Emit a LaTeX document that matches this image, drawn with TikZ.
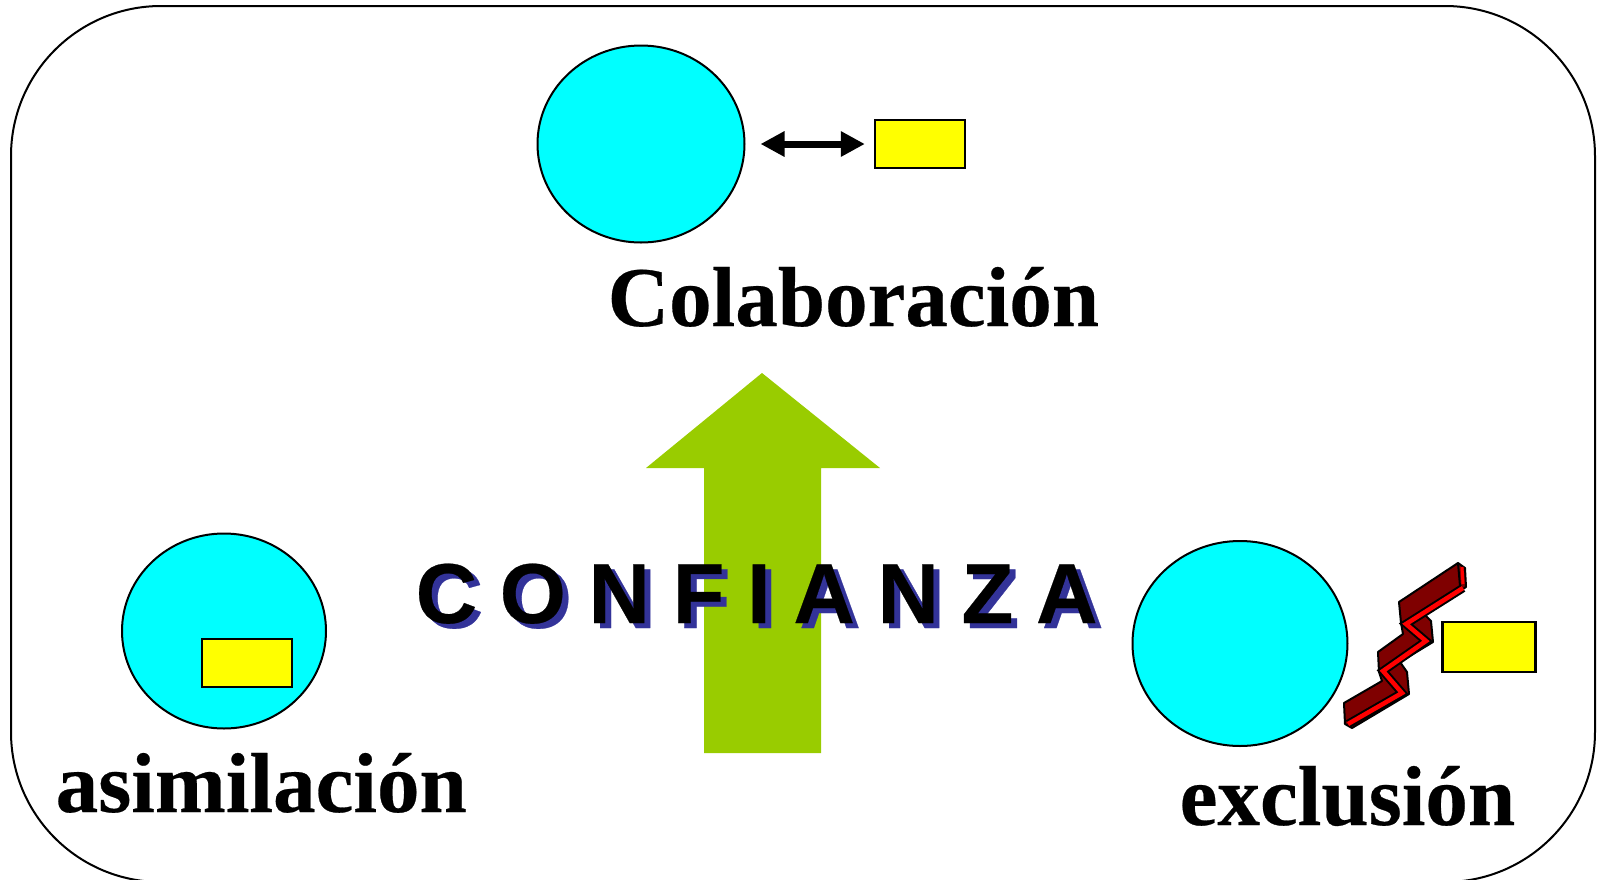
\documentclass[tikz,border=0pt]{standalone}
\usepackage{fontspec}
\usetikzlibrary{arrows.meta,shapes.geometric}
\setmainfont[BoldFeatures={FakeBold=0.3}]{Liberation Serif}
\newfontfamily\confifont[LetterSpace=26.6,BoldFeatures={FakeBold=0.3}]{Liberation Sans}
\definecolor{circlecyan}{HTML}{00FFFF}
\definecolor{boxyellow}{HTML}{FFFF00}
\definecolor{arrowgreen}{HTML}{99CC00}
\definecolor{boltred}{HTML}{7F0000}
\definecolor{shadowblue}{HTML}{333399}
\tikzset{
	circ/.style={draw,ellipse,fill=circlecyan,line width=0.2mm,inner sep=0,minimum width=#1},
	tag/.style={draw,rectangle,fill=boxyellow,line width=0.23mm,inner sep=0,minimum width=0.9cm,minimum height=0.485cm},
	bigword/.style={anchor=base west,inner sep=0,font=\fontsize{24.2}{29}\selectfont\bfseries},
	confi/.style={anchor=base west,inner sep=0,font=\fontsize{24.2}{29}\confifont\bfseries}
}
\begin{document}
\begin{tikzpicture}
		\useasboundingbox (0,0) rectangle (15.98,8.79);
		\draw[line width=0.2mm,rounded corners=1.5cm] (0.11,-0.03) rectangle (15.95,8.73);

		\node[circ=2.07cm,minimum height=1.97cm] (colabcirc) at (6.41,7.35) {};
		\node[tag] (colabtag) at (9.2,7.35) {};
		\draw[{Triangle[length=0.24cm,width=0.24cm]}-{Triangle[length=0.24cm,width=0.24cm]},line width=0.07cm,shorten <=0.15cm,shorten >=0.09cm] (colabcirc) -- (colabtag);
		\node[bigword] (colabtext) at (6.07,5.53) {Colaboración};

		\fill[arrowgreen] (7.62,5.06) -- (8.8,4.11) -- (8.21,4.11) -- (8.21,1.26) -- (7.04,1.26) -- (7.04,4.11) -- (6.46,4.11) -- cycle;

		\node[confi,shadowblue] (confishadow) at (4.21,2.51) {CONFIANZA};
		\node[confi] (confitext) at (4.15,2.56) {CONFIANZA};

		\node[circ=2.04cm,minimum height=1.95cm] (asimcirc) at (2.24,2.48) {};
		\node[tag] (asimtag) at (2.47,2.16) {};
		\node[bigword] (asimtext) at (0.55,0.67) {asimilación};

		\node[circ=2.15cm,minimum height=2.05cm] (exclcirc) at (12.4,2.355) {};
		\node[tag,minimum width=0.93cm,minimum height=0.505cm] (excltag) at (14.89,2.32) {};
		\node[bigword] (excltext) at (11.79,0.54) {exclusión};

		% bolt
		\begin{scope}[yshift=-0.4cm]
		\filldraw[fill=boltred,line width=0.2mm,line join=round] (14.58,3.56) -- (14.65,3.51) -- (14.66,3.32) -- (14.25,3.04) -- (14.31,2.98) -- (14.33,2.77) -- (14,2.57) -- (14.07,2.47) -- (14.09,2.25) -- (13.52,1.91) -- (13.45,1.95) -- (13.44,2.16) -- (13.82,2.38) -- (13.79,2.47) -- (13.78,2.67) -- (14.03,2.85) -- (14.01,2.96) -- (13.99,3.17) -- cycle;
		\draw[line width=0.085cm,line join=miter] (14.63,3.31) -- (14.06,2.95) -- (14.26,2.78) -- (13.83,2.48) -- (14.02,2.26) -- (13.48,1.95);
		\draw[red,line width=0.045cm,line join=miter] (14.63,3.31) -- (14.06,2.95) -- (14.26,2.78) -- (13.83,2.48) -- (14.02,2.26) -- (13.48,1.95);
		\draw[line width=0.2mm] (14.58,3.56) -- (14.6,3.33);
		\draw[red,line width=0.03cm] (14.62,3.52) -- (14.63,3.35);
		\end{scope}
\end{tikzpicture}
\end{document}
